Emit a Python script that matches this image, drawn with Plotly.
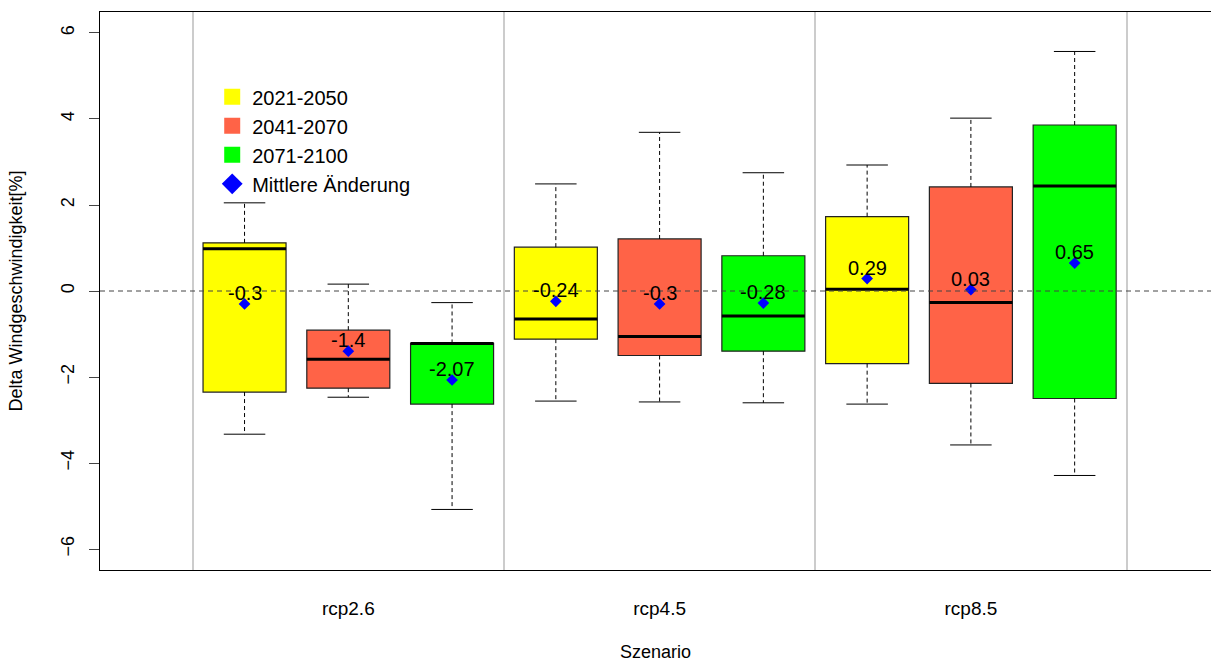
import plotly.graph_objects as go

# Scenario groups and time periods
scenarios = ["rcp2.6", "rcp4.5", "rcp8.5"]
periods = ["2021-2050", "2041-2070", "2071-2100"]
period_colors = ["#FFFF00", "#FF6347", "#00FF00"]

# Box statistics per scenario/period (order: rcp2.6 x 3 periods, rcp4.5 x 3, rcp8.5 x 3)
upper_whisker = [2.05, 0.16, -0.27, 2.49, 3.69, 2.75, 2.93, 4.02, 5.57]
q3 = [1.12, -0.91, -1.22, 1.02, 1.21, 0.82, 1.73, 2.42, 3.86]
median = [0.98, -1.59, -1.22, -0.65, -1.06, -0.58, 0.04, -0.27, 2.44]
q1 = [-2.35, -2.26, -2.63, -1.12, -1.50, -1.40, -1.69, -2.15, -2.50]
lower_whisker = [-3.33, -2.47, -5.08, -2.56, -2.58, -2.60, -2.63, -3.58, -4.29]
mean_change = [-0.3, -1.4, -2.07, -0.24, -0.3, -0.28, 0.29, 0.03, 0.65]

n_per = len(periods)
positions = [g * n_per + p + 1 for g in range(len(scenarios)) for p in range(n_per)]
colors = [period_colors[p] for g in range(len(scenarios)) for p in range(n_per)]
group_centers = [g * n_per + (n_per + 1) / 2 for g in range(len(scenarios))]
group_edges = [g * n_per + 0.5 for g in range(len(scenarios) + 1)]

BOX_W = 0.8
CAP_HALF = 0.2

fig = go.Figure()

# Boxes (Q1..Q3)
fig.add_trace(go.Bar(
    x=positions,
    y=[hi - lo for hi, lo in zip(q3, q1)],
    base=q1,
    width=BOX_W,
    marker=dict(color=colors, line=dict(color="#222222", width=1.2)),
    showlegend=False,
    hoverinfo="skip",
))

# Dashed whiskers
wx, wy = [], []
for x, a, b, c, d in zip(positions, q3, upper_whisker, q1, lower_whisker):
    wx += [x, x, None, x, x, None]
    wy += [a, b, None, c, d, None]
fig.add_trace(go.Scatter(x=wx, y=wy, mode="lines",
                         line=dict(color="black", width=1, dash="4px,3px"),
                         showlegend=False, hoverinfo="skip"))

# Whisker caps
cx, cy = [], []
for x, b, d in zip(positions, upper_whisker, lower_whisker):
    cx += [x - CAP_HALF, x + CAP_HALF, None, x - CAP_HALF, x + CAP_HALF, None]
    cy += [b, b, None, d, d, None]
fig.add_trace(go.Scatter(x=cx, y=cy, mode="lines",
                         line=dict(color="black", width=1),
                         showlegend=False, hoverinfo="skip"))

# Median lines
mx, my = [], []
for x, m in zip(positions, median):
    mx += [x - BOX_W / 2, x + BOX_W / 2, None]
    my += [m, m, None]
fig.add_trace(go.Scatter(x=mx, y=my, mode="lines",
                         line=dict(color="black", width=3),
                         showlegend=False, hoverinfo="skip"))

# Mean change markers
fig.add_trace(go.Scatter(x=positions, y=mean_change, mode="markers",
                         marker=dict(symbol="diamond", size=9, color="#0000FF"),
                         showlegend=False, hoverinfo="skip"))

# Mean change labels
for x, v in zip(positions, mean_change):
    fig.add_annotation(x=x, y=v, text=f"{v:g}", showarrow=False, yshift=11,
                       font=dict(size=20, color="black"))

# Legend entries
for name, col in zip(periods, period_colors):
    fig.add_trace(go.Scatter(x=[None], y=[None], mode="markers", name=name,
                             marker=dict(symbol="square", size=17, color=col)))
fig.add_trace(go.Scatter(x=[None], y=[None], mode="markers", name="Mittlere Änderung",
                         marker=dict(symbol="diamond", size=16, color="#0000FF")))

# Zero reference line
fig.add_shape(type="line", xref="x domain", x0=0, x1=1, yref="y", y0=0, y1=0,
              line=dict(color="#444444", width=1, dash="5px,4px"), layer="above")

fig.update_layout(
    width=1211, height=662,
    margin=dict(l=100, r=0, t=12, b=92),
    plot_bgcolor="white", paper_bgcolor="white",
    font=dict(family="Liberation Sans, Arial, sans-serif", color="black", size=18),
    barmode="overlay",
    legend=dict(x=0.101, y=0.883, xanchor="left", yanchor="top",
                font=dict(size=20), bgcolor="rgba(0,0,0,0)", traceorder="normal"),
    xaxis=dict(
        range=[-0.393, 10.314],
        tickmode="array", tickvals=group_centers, ticktext=scenarios,
        ticks="", ticklabelstandoff=21,
        showgrid=False, zeroline=False,
        showline=True, mirror=True, linecolor="black", linewidth=1,
        minor=dict(tickmode="array", tickvals=group_edges, showgrid=True,
                   gridcolor="#cccccc", gridwidth=1.5, ticks=""),
        title=dict(text="Szenario", standoff=31, font=dict(size=18)),
        tickfont=dict(size=19),
    ),
    yaxis=dict(
        range=[-6.488, 6.488],
        tickmode="array", tickvals=[-6, -4, -2, 0, 2, 4, 6],
        ticks="outside", ticklen=10, tickcolor="#444444", tickangle=-90,
        ticklabelstandoff=8,
        showgrid=False, zeroline=False,
        showline=True, mirror=False, linecolor="black", linewidth=1,
        title=dict(text="Delta Windgeschwindigkeit[%]", standoff=30, font=dict(size=18)),
        tickfont=dict(size=18),
    ),
)

fig.write_html("out.html")
